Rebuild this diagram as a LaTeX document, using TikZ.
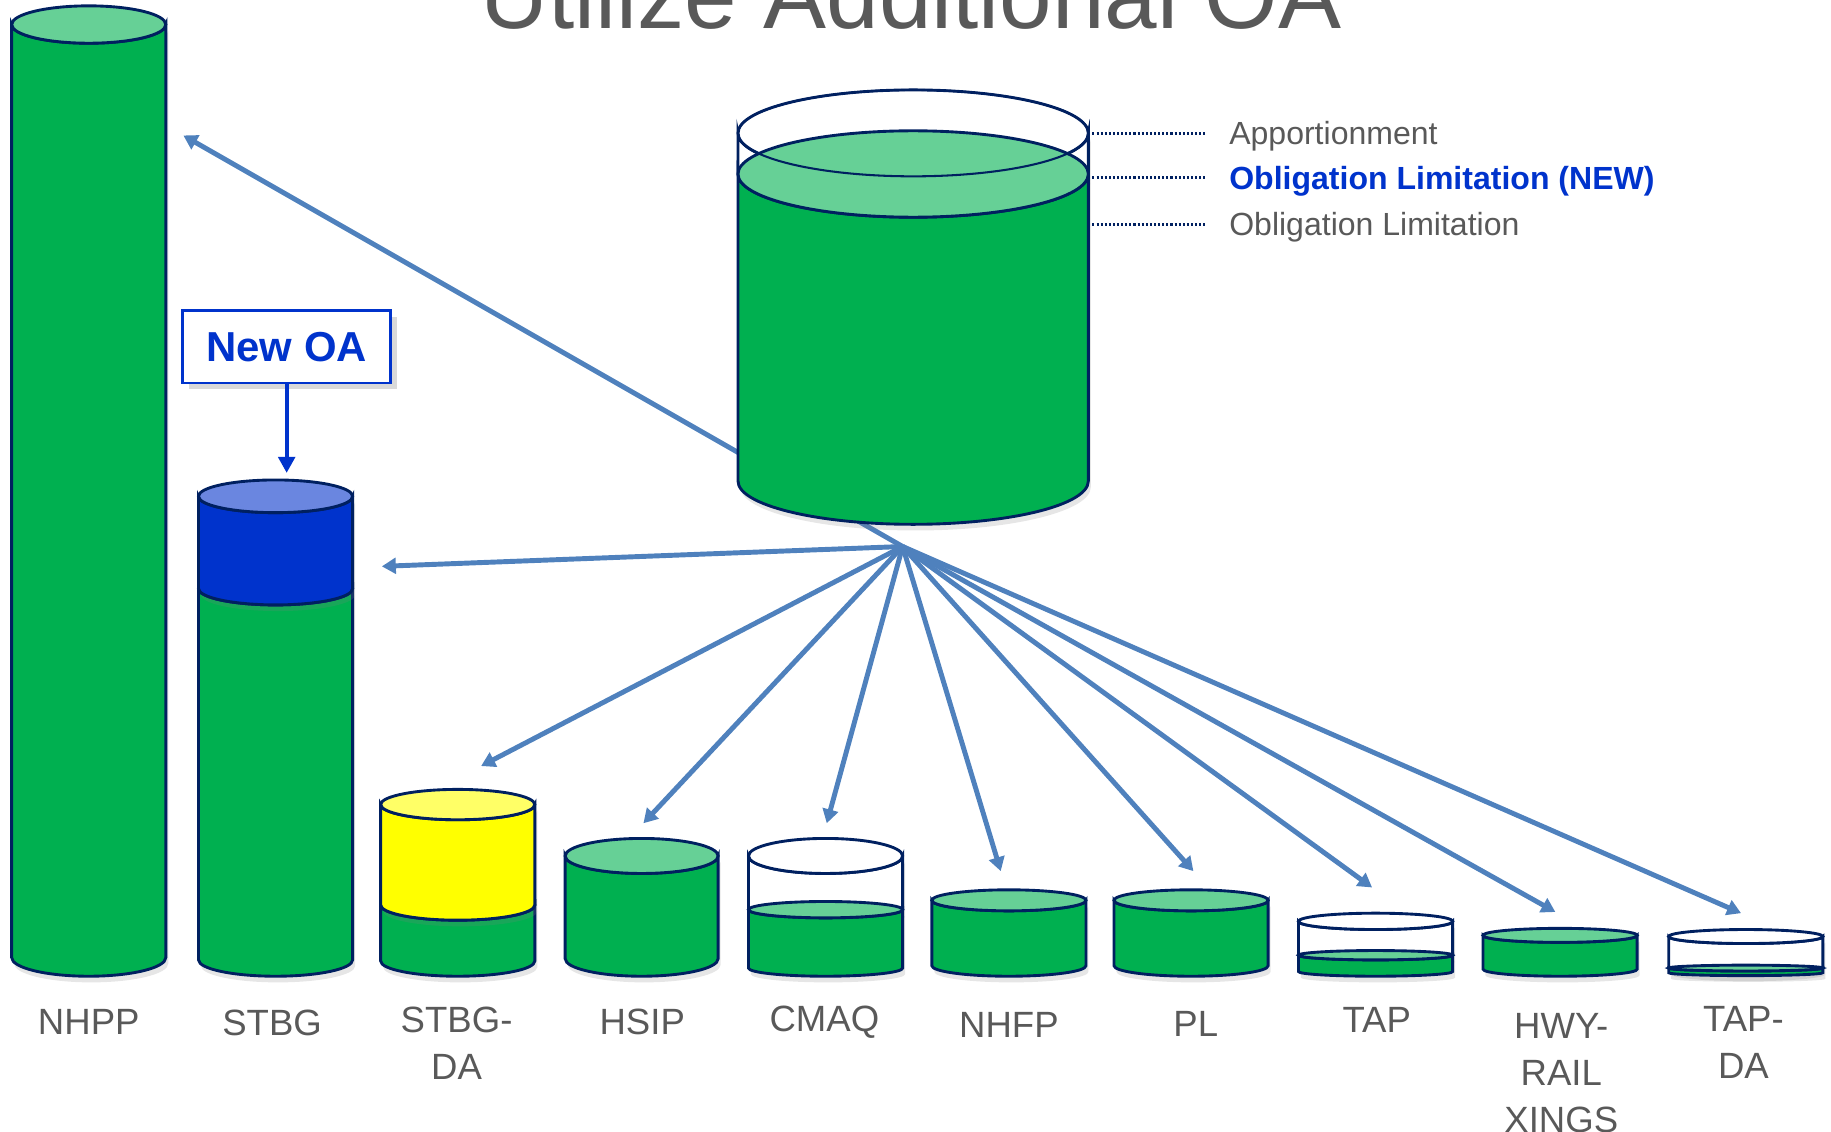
\documentclass[tikz,border=0pt]{standalone}
\usepackage{fontspec}
\setmainfont{Liberation Sans}
\usetikzlibrary{arrows.meta}
\usetikzlibrary{shadows}

\definecolor{fund}{HTML}{00B050}
\definecolor{fundtop}{HTML}{66D096}
\definecolor{rimblue}{HTML}{002060}
\definecolor{oablue}{HTML}{0033CC}
\definecolor{oatop}{HTML}{6A86E0}
\definecolor{da}{HTML}{FFFF00}
\definecolor{datop}{HTML}{FFFF66}
\definecolor{flow}{HTML}{4F81BD}
\definecolor{txt}{HTML}{595959}

\tikzset{
  rim/.style={draw=rimblue, line width=.7pt},
  can shadow/.style={drop shadow={opacity=.2, shadow xshift=.6pt, shadow yshift=-1.5pt}},
  flowarrow/.style={draw=flow, line width=1.2pt, -{Triangle[length=3.4pt,width=3.8pt]}},
  oaarrow/.style={draw=oablue, line width=1pt, -{Triangle[length=3.9pt,width=4pt]}},
  oabox/.style={draw=oablue, line width=.7pt, fill=white, text=oablue,
    font=\fontsize{10.2pt}{12pt}\selectfont\bfseries, minimum width=1.78cm, minimum height=.62cm,
    drop shadow={opacity=.3, shadow xshift=1.5pt, shadow yshift=-1.5pt}},
  prog/.style={text=txt, font=\fontsize{8.9pt}{11.4pt}\selectfont, align=center, anchor=north, inner sep=0pt},
  legend/.style={text=txt, font=\fontsize{7.8pt}{9pt}\selectfont, anchor=west, inner xsep=.19cm,
    inner ysep=0pt, text height=5.6pt, text depth=0pt},
  leader/.style={draw=rimblue, line width=.7pt, dash pattern=on .5pt off .5pt},
}

% one segment of a can: centre x, x radius, y radius, top, bottom, body colour, lid colour
\newcommand{\band}[7]{%
  \filldraw[rim, fill=#6, can shadow] (#1-#2,-#4) -- (#1-#2,-#5)
    arc[start angle=180, end angle=360, x radius=#2, y radius=#3] -- (#1+#2,-#4)
    arc[start angle=0, end angle=-180, x radius=#2, y radius=#3] -- cycle;
  \filldraw[rim, fill=#7] (#1,-#4) ellipse[x radius=#2, y radius=#3];
}

\begin{document}
\begin{tikzpicture}[x=0.01cm, y=0.01cm]
			\useasboundingbox (0,0) rectangle (1568,-969);
			\node[text=txt, font=\fontsize{23pt}{27pt}\selectfont, anchor=base] (title) at (780,-24) {Utilize Additional OA};
			% flows out of the pool
			\coordinate (hub) at (773,-468);
			\coordinate (to-nhpp) at (157,-116);
			\coordinate (to-stbg) at (327,-485);
			\coordinate (to-stbgda) at (412,-656);
			\coordinate (to-hsip) at (551,-705);
			\coordinate (to-cmaq) at (708,-705);
			\coordinate (to-nhfp) at (857,-746);
			\coordinate (to-pl) at (1022,-746);
			\coordinate (to-tap) at (1175,-760);
			\coordinate (to-hwy) at (1332,-781);
			\coordinate (to-tapda) at (1491,-782);
			\draw (hub) edge[flowarrow] (to-nhpp)
			(hub) edge[flowarrow] (to-stbg)
			(hub) edge[flowarrow] (to-stbgda)
			(hub) edge[flowarrow] (to-hsip)
			(hub) edge[flowarrow] (to-cmaq)
			(hub) edge[flowarrow] (to-nhfp)
			(hub) edge[flowarrow] (to-pl)
			(hub) edge[flowarrow] (to-tap)
			(hub) edge[flowarrow] (to-hwy)
			(hub) edge[flowarrow] (to-tapda);
			% the pool
			\band{782}{150}{37}{114}{149}{white}{white}
			\band{782}{150}{37}{149}{412}{fund}{fundtop}
			\draw[draw=rimblue, line width=.5pt] (782,-114) ellipse[x radius=150, y radius=37];
			% the programs
			\band{76}{66}{16}{21}{820}{fund}{fundtop}
			\band{236}{66}{14}{504}{822}{fund}{fundtop}
			\band{236}{66}{14}{425}{504}{oablue}{oatop}
			\band{392}{66}{13}{775}{823}{fund}{fundtop}
			\band{392}{66}{13}{689}{775}{da}{datop}
			\band{549.5}{65.5}{15}{733}{821}{fund}{fundtop}
			\band{707}{66}{15}{733}{779}{white}{white}
			\band{707}{66}{7}{779}{829}{fund}{fundtop}
			\band{864}{66}{9}{771}{827}{fund}{fundtop}
			\band{1020}{66}{9}{771}{827}{fund}{fundtop}
			\band{1178}{66}{7}{789}{818}{white}{white}
			\band{1178}{66}{4}{818}{832}{fund}{fundtop}
			\band{1336}{66}{6}{801}{830}{fund}{fundtop}
			\band{1495}{66}{6}{802}{829}{white}{white}
			\band{1495}{66}{2.5}{829}{833}{fund}{fundtop}
			% new OA into STBG
			\node[oabox] (newoa) at (245.5,-297) {New OA};
			\coordinate (stbg-top) at (245.5,-405);
			\draw[oaarrow] (newoa) -- (stbg-top);
			% legend
			\coordinate (lvl-app) at (932,-114);
			\coordinate (lvl-new) at (932,-152);
			\coordinate (lvl-ol) at (932,-192);
			\node[legend] (lg-app) at (1033,-114) {Apportionment};
			\node[legend, text=oablue, font=\fontsize{7.8pt}{9pt}\selectfont\bfseries] (lg-new) at (1033,-152) {Obligation Limitation (NEW)};
			\node[legend] (lg-ol) at (1033,-192) {Obligation Limitation};
			\draw[leader] (lvl-app) -- (lg-app);
			\draw[leader] (lvl-new) -- (lg-new);
			\draw[leader] (lvl-ol) -- (lg-ol);
			% labels
			\node[prog] (l-nhpp) at (76,-864) {NHPP};
			\node[prog] (l-stbg) at (233,-864) {STBG};
			\node[prog] (l-stbgda) at (391,-862) {STBG-\\DA};
			\node[prog] (l-hsip) at (550,-863) {HSIP};
			\node[prog] (l-cmaq) at (706,-861) {CMAQ};
			\node[prog] (l-nhfp) at (864,-866) {NHFP};
			\node[prog] (l-pl) at (1024,-865) {PL};
			\node[prog] (l-tap) at (1179,-862) {TAP};
			\node[prog] (l-hwy) at (1337,-867) {HWY-\\RAIL\\XINGS};
			\node[prog] (l-tapda) at (1493,-861) {TAP-\\DA};
		\end{tikzpicture}
\end{document}
